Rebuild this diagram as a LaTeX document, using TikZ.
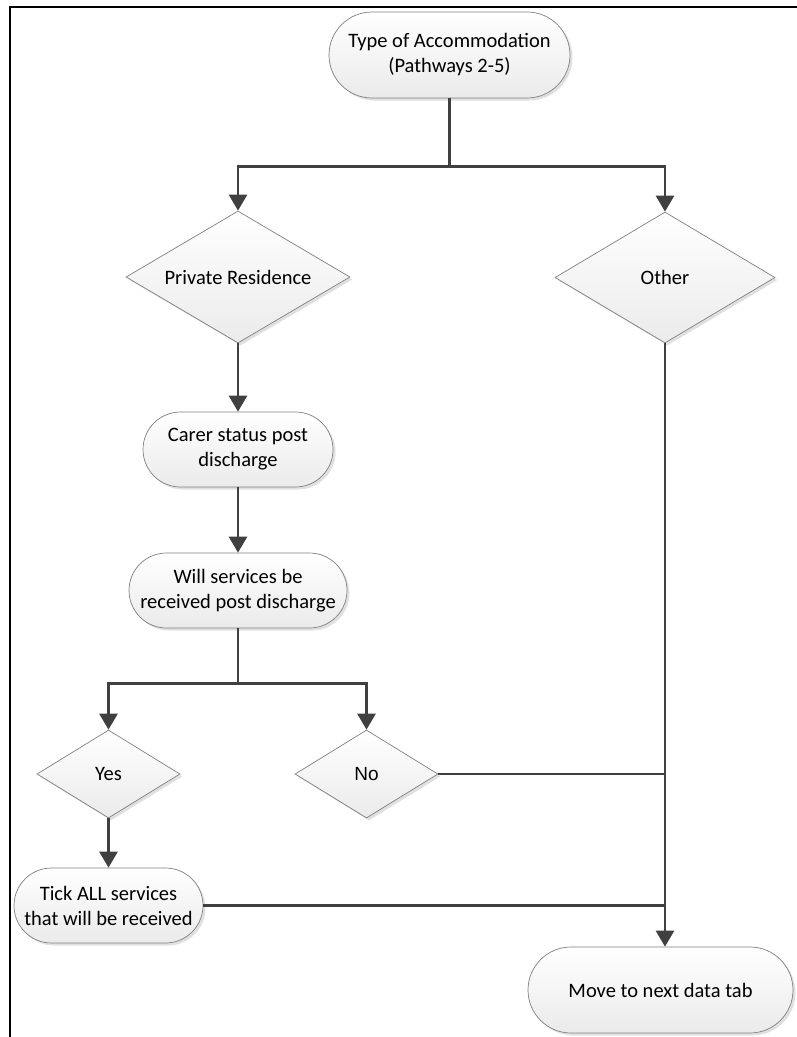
\documentclass[tikz,border=0pt]{standalone}
\usepackage{fontspec}
\setmainfont{Carlito}
\newfontfamily\arialfont{Liberation Sans}
\usetikzlibrary{shapes.geometric,arrows.meta,shadows}
\begin{document}
\begin{tikzpicture}[x=1pt,y=-1pt,
  nodebase/.style={draw=black!50, line width=0.7pt, top color=white, bottom color=black!8,
    drop shadow={opacity=0.2,shadow xshift=2.5pt,shadow yshift=-2.5pt,fill=black!60},
    align=center, inner sep=0pt, text=black, font=\fontsize{20.5}{25}\selectfont},
  box/.style={nodebase, rectangle},
  dec/.style={nodebase, diamond, aspect=1.7},
  conn/.style={draw=black!75, line width=2.8pt},
  arr/.style={conn, -{Triangle[length=16pt,width=18pt]}},
]
\useasboundingbox (0,0) rectangle (797,1037);
\draw[line width=2pt] (10.3,1040) -- (10.3,7) -- (800,7);

\node[box, minimum width=241pt, minimum height=86pt, rounded corners=43pt] (top) at (449.5,55) {Type of Accommodation\\(Pathways 2-5)};
\node[dec, minimum width=224pt, minimum height=132pt] (pr) at (238,277) {Private Residence};
\node[dec, minimum width=220pt, minimum height=131pt] (oth) at (665,277.5) {Other};
\node[box, minimum width=190pt, minimum height=75pt, rounded corners=37.5pt] (carer) at (238,449.5) {Carer status post\\discharge};
\node[box, minimum width=218pt, minimum height=75pt, rounded corners=37.5pt] (will) at (238,590.5) {Will services be\\received post discharge};
\node[dec, minimum width=143pt, minimum height=88pt] (yes) at (108.5,774) {Yes};
\node[dec, minimum width=143pt, minimum height=88pt] (no) at (366.5,774) {\arialfont\fontsize{19}{22}\selectfont No};
\node[box, minimum width=189pt, minimum height=75pt, rounded corners=37.5pt] (tick) at (108.5,905.5) {Tick ALL services\\that will be received};
\node[box, minimum width=265pt, minimum height=86pt, rounded corners=43pt] (move) at (660.5,990) {Move to next data tab};

\coordinate (j1) at (449.5,166.5);
\coordinate (j2) at (238,683.5);

\draw[arr] (top.south) -- (top.south |- j1) -| (pr.north);
\draw[arr] (top.south) -- (top.south |- j1) -| (oth.north);
\draw[arr] (pr.south) -- (carer.north);
\draw[arr] (carer.south) -- (will.north);
\draw[arr] (will.south) -- (will.south |- j2) -| (yes.north);
\draw[arr] (will.south) -- (will.south |- j2) -| (no.north);
\draw[arr] (yes.south) -- (tick.north);
\draw[arr] (oth.south) -- (oth.south |- move.north);
\draw[conn] (no.east) -- (no.east -| oth.south);
\draw[conn] (tick.east) -- (tick.east -| oth.south);
\end{tikzpicture}
\end{document}
